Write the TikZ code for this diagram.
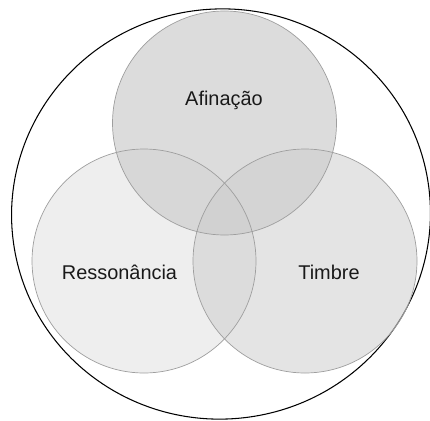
\documentclass[tikz,border=0pt]{standalone}
\usepackage{fontspec}
\setmainfont{Liberation Sans}
\usepackage{tikz}
\usetikzlibrary{shapes.geometric}
\tikzset{
  vennset/.style={circle,minimum size=6.72cm,inner sep=0pt},
  vennedge/.style={draw=black!38,line width=0.6pt},
  vennlabel/.style={font=\fontsize{17}{20}\selectfont,text=black!90},
  outerset/.style={ellipse,draw=black,line width=0.9pt,
    minimum width=12.57cm,minimum height=12.3cm,inner sep=0pt}
}

\begin{document}
\begin{tikzpicture}[x=0.03cm,y=-0.03cm]
  \useasboundingbox (0,0) rectangle (430,420);
  % conjunto envolvente
  \node[outerset,rotate=8] (todo) at (221,214) {};

  % os tres conjuntos: primeiro os preenchimentos, depois os contornos
  \node[vennset,fill=black!15,fill opacity=0.45] (resso) at (144,261) {};
  \node[vennset,fill=black!18,fill opacity=0.59] (timbre) at (305,261) {};
  \node[vennset,fill=black!20,fill opacity=0.68] (afin) at (224.5,123) {};
  \foreach \c in {resso,timbre,afin}
    \draw[vennedge] (\c.center) circle[radius=112];

  \node[vennlabel] (lafin) at (224,100) {Afinação};
  \node[vennlabel] (lresso) at (119.5,272) {Ressonância};
  \node[vennlabel] (ltimbre) at (329,272) {Timbre};
\end{tikzpicture}
\end{document}
